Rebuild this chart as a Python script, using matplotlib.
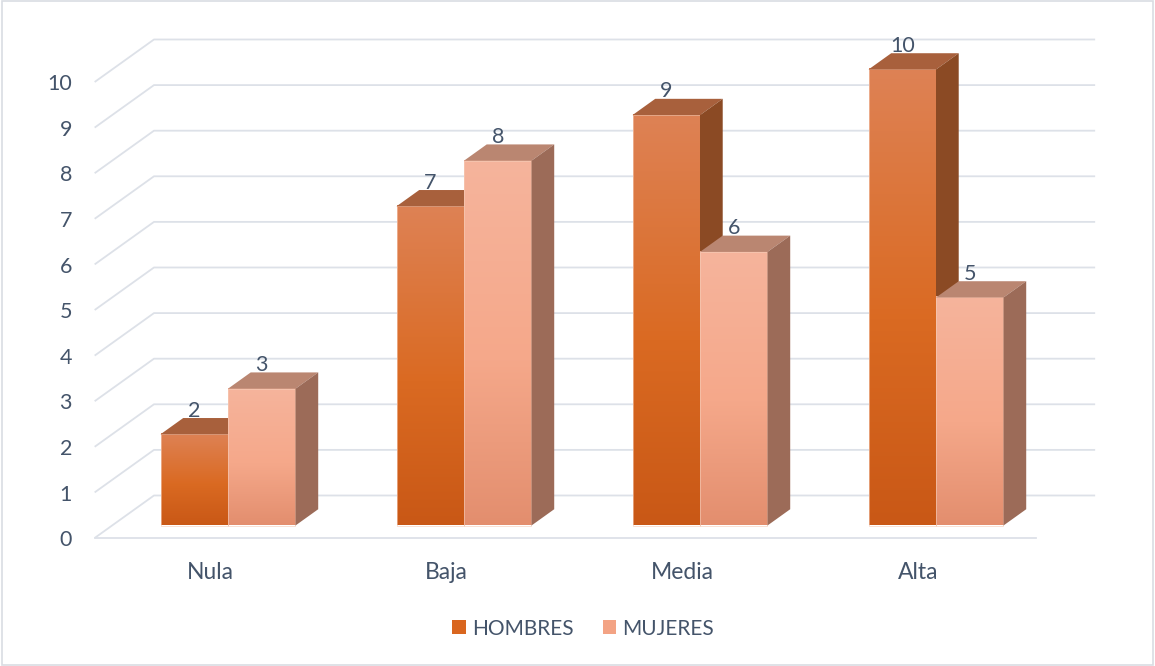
import matplotlib.pyplot as plt
import numpy as np
from matplotlib.patches import Polygon, Patch, Rectangle
from matplotlib.colors import LinearSegmentedColormap

# data
categorias = ['Nula', 'Baja', 'Media', 'Alta']
hombres = [2, 7, 9, 10]
mujeres = [3, 8, 6, 5]
series_names = ['HOMBRES', 'MUJERES']
yticks = list(range(0, 11))

plt.rcParams['font.family'] = ['Lato', 'DejaVu Sans']
txt_color = '#44546A'
grid_color = '#DDE1E8'

# 3d look: depth vector (data units) and where the bars sit in the floor depth
DX = 0.2513
DY = 0.932
t_bar = 0.294      # bar front, as fraction of floor depth
d_bar = 0.383      # bar depth
w = 0.286          # bar width
x_left = -0.565    # left end of floor front line
x_right = 3.423

front_cols = [['#DE8255', '#DA6A22', '#C95816'], ['#F6B49C', '#F5A88A', '#E38E6E']]
top_cols = ['#A8603C', '#BA8671']
side_cols = ['#8B4A24', '#9C6B58']
legend_cols = ['#D9661F', '#F3A384']

fig = plt.figure(figsize=(11.55, 6.66), dpi=100)
ax = fig.add_axes([0, 0, 1, 1])
ax.set_xlim(-228 / 236, (1155 - 228) / 236)
ax.set_ylim((525.5 - 666) / 45.6, 525.5 / 45.6)
ax.axis('off')


def pt(x, v, t):
    # point on the floor grid: t=0 front edge, t=1 back wall
    return (x + t * DX, v + (t - t_bar) * DY)


# gridlines on left wall and back wall
for v in yticks:
    p0 = pt(x_left, v, 0)
    p1 = pt(x_left, v, 1)
    p2 = pt(x_right, v, 1)
    ax.plot([p0[0], p1[0], p2[0]], [p0[1], p1[1], p2[1]], color=grid_color, lw=1.3, zorder=1,
            solid_capstyle='butt')
    ax.text(p0[0] - 0.096, p0[1] - 0.05, str(v), ha='right', va='center', fontsize=15.5,
            color=txt_color)

# floor front edge
f0 = pt(x_left, 0, 0)
f1 = pt(x_right, 0, 0)
ax.plot([f0[0], f1[0]], [f0[1], f1[1]], color=grid_color, lw=1.3, zorder=1)

grad = np.linspace(0, 1, 256).reshape(-1, 1)
for i, cat in enumerate(categorias):
    for s, vals in enumerate([hombres, mujeres]):
        v = vals[i]
        x0 = i - w + s * w
        cmap = LinearSegmentedColormap.from_list('g%d' % s, list(zip([0, 0.55, 1], front_cols[s])))
        # front face with vertical gradient (row 0 = top colour)
        ax.imshow(grad, extent=[x0, x0 + w, 0, v], origin='upper', aspect='auto', cmap=cmap,
                  zorder=2 + i * 2 + s, interpolation='bilinear')
        ax.add_patch(Rectangle((x0, 0), w, v, fill=False, edgecolor='#F6CDB8', lw=0.6,
                               zorder=2 + i * 2 + s, alpha=0.7))
        ox = d_bar * DX
        oy = d_bar * DY
        top = Polygon([(x0, v), (x0 + w, v), (x0 + w + ox, v + oy), (x0 + ox, v + oy)],
                      closed=True, facecolor=top_cols[s], edgecolor='none', zorder=2 + i * 2 + s)
        side = Polygon([(x0 + w, 0), (x0 + w, v), (x0 + w + ox, v + oy), (x0 + w + ox, oy)],
                       closed=True, facecolor=side_cols[s], edgecolor='none', zorder=2 + i * 2 + s)
        ax.add_patch(top)
        ax.add_patch(side)
        ax.text(x0 + w / 2, v + oy + 0.03, str(v), ha='center', va='baseline', fontsize=15.5,
                color=txt_color, zorder=20)
    cx = pt(i - t_bar * DX, 0, 0)
    ax.text(cx[0], cx[1] - 0.9, cat, ha='center', va='baseline', fontsize=16.5, color=txt_color)

# legend
handles = [Patch(facecolor=legend_cols[k], edgecolor='none', label=series_names[k]) for k in range(2)]
fig.legend(handles=handles, loc='center', bbox_to_anchor=(0.505, 0.056), ncol=2, frameon=False,
           fontsize=15, handlelength=0.65, handleheight=0.65, handletextpad=0.3, columnspacing=1.4,
           labelcolor=txt_color)

# chart border
fig.patches.append(Rectangle((0.002, 0.0015), 0.996, 0.997, transform=fig.transFigure, fill=False,
                             edgecolor='#D9DDE3', lw=1.2))

fig.savefig('out.png', dpi=100)
